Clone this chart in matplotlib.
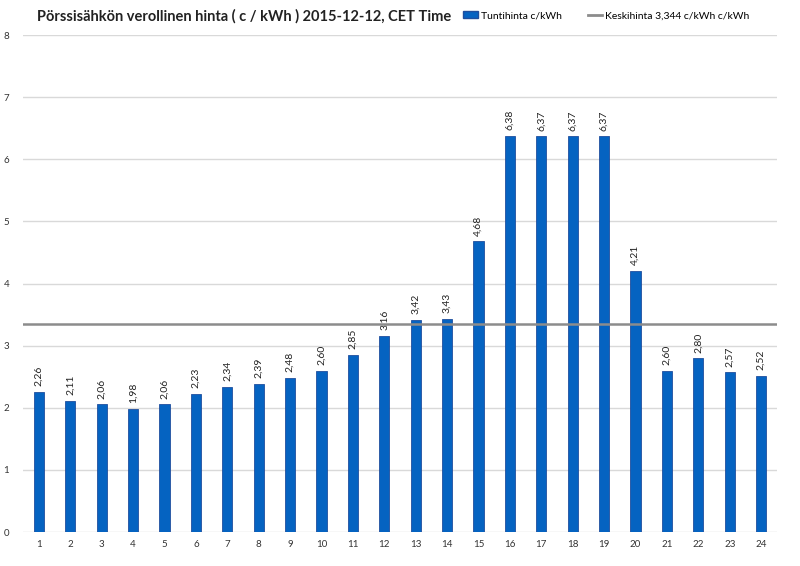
import matplotlib
matplotlib.use('Agg')
import matplotlib.pyplot as plt
from matplotlib.patches import Patch
from matplotlib.lines import Line2D

hours = list(range(1, 25))
prices = [2.26, 2.11, 2.06, 1.98, 2.06, 2.23, 2.34, 2.39, 2.48, 2.60, 2.85, 3.16,
          3.42, 3.43, 4.68, 6.38, 6.37, 6.37, 6.37, 4.21, 2.60, 2.80, 2.57, 2.52]
average = 3.344
title = 'Pörssisähkön verollinen hinta ( c / kWh ) 2015-12-12, CET Time'
bar_label = 'Tuntihinta c/kWh'
avg_label = 'Keskihinta 3,344 c/kWh c/kWh'

plt.rcParams['font.family'] = ['Lato', 'DejaVu Sans']

fig = plt.figure(figsize=(8, 5.66), dpi=100)
ax = fig.add_axes([0.029, 0.060, 0.942, 0.878])

ax.bar(hours, prices, width=0.33, color='#0563C1', edgecolor='#1F4E9E', linewidth=0.6, zorder=3)
ax.axhline(average, color='#8C8C8C', linewidth=1.8, zorder=4)

# value labels, comma decimal separator
for h, p in zip(hours, prices):
    ax.annotate(('%.2f' % p).replace('.', ','), xy=(h, p), xytext=(0, 4), textcoords='offset points',
                rotation=90, ha='center', va='bottom', fontsize=7.5, color='#222222')

ax.set_xlim(0.5, 24.5)
ax.set_ylim(0, 8)
ax.set_xticks(hours)
ax.set_yticks(range(0, 9))
ax.grid(axis='y', color='#D9D9D9', linewidth=1, zorder=0)
for s in ax.spines.values():
    s.set_visible(False)
ax.tick_params(length=0, labelsize=7, colors='#333333', pad=6)
ax.tick_params(axis='y', pad=10)

fig.text(0.046, 0.972, title, fontsize=10.5, fontweight='bold', color='#222222', va='center')

handles = [Patch(facecolor='#0563C1', edgecolor='#1F4E9E'),
           Line2D([0], [0], color='#8C8C8C', linewidth=2)]
fig.legend(handles, [bar_label, avg_label], loc='center', bbox_to_anchor=(0.758, 0.972), ncol=2,
           frameon=False, fontsize=7.5, handlelength=1.4, handleheight=0.6, handletextpad=0.3,
           columnspacing=2.5)

fig.savefig('out.png', dpi=100)
